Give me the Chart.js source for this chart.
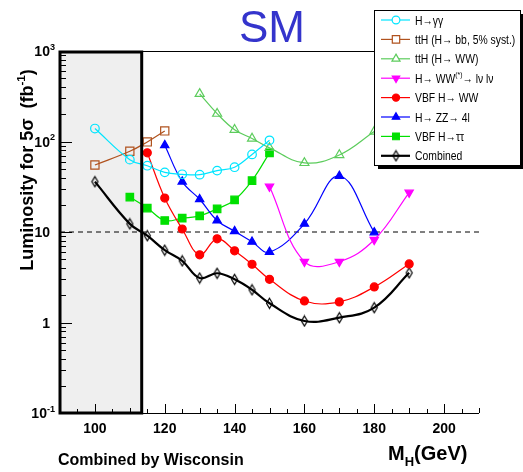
<!DOCTYPE html>
<html>
<head>
<meta charset="utf-8">
<script src="https://cdn.jsdelivr.net/npm/chart.js@4.4.0/dist/chart.umd.min.js"></script>
<style>
  html, body { margin: 0; padding: 0; background: #fff; }
  canvas { display: block; }
</style>
</head>
<body>
<canvas id="lumiChart" width="523" height="472"></canvas>
<script>
const massGamma = [100, 110, 115, 120, 125, 130, 135, 140, 145, 150];
const lumiGamma = [139, 63, 54, 45.6, 43.4, 43, 47.7, 52, 72, 103];

const massTthBb = [100, 110, 115, 120];
const lumiTthBb = [55, 78, 99, 131];

const massTthWw = [130, 135, 140, 145, 150, 160, 170, 180];
const lumiTthWw = [336, 203, 135, 108, 85, 58, 71, 129];

const massWwLvlv = [150, 160, 170, 180, 190];
const lumiWwLvlv = [31.8, 4.7, 4.7, 8.2, 27.3];

const massVbfWw = [115, 120, 125, 130, 135, 140, 145, 150, 160, 170, 180, 190];
const lumiVbfWw = [75, 23.7, 10.8, 5.6, 8.4, 6.2, 4.4, 3.0, 1.73, 1.69, 2.47, 4.44];

const massZz = [120, 125, 130, 135, 140, 145, 150, 160, 170, 180];
const lumiZz = [91, 36, 23, 13.4, 10.2, 7.8, 6.0, 12.3, 41.6, 9.9];

const massVbfTau = [110, 115, 120, 125, 130, 135, 140, 145, 150];
const lumiVbfTau = [24.3, 18.4, 13.4, 14.2, 15.1, 18, 22.6, 37, 75];

const massCombined = [100, 110, 115, 120, 125, 130, 135, 140, 145, 150, 160, 170, 180, 190];
const lumiCombined = [36, 12.3, 9.1, 6.3, 4.8, 3.1, 3.5, 3.0, 2.3, 1.63, 1.04, 1.13, 1.46, 3.54];

const xTickLabels = [100, 120, 140, 160, 180, 200];
const yTickValues = [0.1, 1, 10, 100, 1000];
const yTickLabels = ['10^{-1}', '1', '10', '10^{2}', '10^{3}'];

const lepExclusion = 113.4;
const discoveryLine = 10;

const FONT = '"Liberation Sans", Arial, Helvetica, sans-serif';

function pairs(xs, ys) {
  return xs.map((x, i) => ({ x: x, y: ys[i] }));
}

function makeDiamond() {
  const c = document.createElement('canvas');
  c.width = 9;
  c.height = 13;
  const g = c.getContext('2d');
  g.strokeStyle = '#000';
  g.lineWidth = 1.2;
  g.beginPath();
  g.moveTo(4.5, 1.5);
  g.lineTo(7.5, 6.5);
  g.lineTo(4.5, 11.5);
  g.lineTo(1.5, 6.5);
  g.closePath();
  g.stroke();
  return c;
}

// splits "a^{b}c_{d}" into plain / super / sub pieces
function richParts(text) {
  const parts = [];
  const re = /([\^_])\{([^}]*)\}/g;
  let last = 0, m;
  while ((m = re.exec(text))) {
    if (m.index > last) parts.push({ t: text.slice(last, m.index), k: '' });
    parts.push({ t: m[2], k: m[1] });
    last = re.lastIndex;
  }
  if (last < text.length) parts.push({ t: text.slice(last), k: '' });
  return parts;
}

function drawRich(ctx, text, x, y, size, weight, draw = true) {
  let cx = x;
  ctx.textAlign = 'left';
  ctx.textBaseline = 'alphabetic';
  richParts(text).forEach(p => {
    const s = p.k ? size * 0.65 : size;
    ctx.font = `${weight} ${s}px ${FONT}`;
    const dy = p.k === '^' ? -size * 0.45 : p.k === '_' ? size * 0.3 : 0;
    if (draw) ctx.fillText(p.t, cx, y + dy);
    cx += ctx.measureText(p.t).width;
  });
  return cx - x;
}

const LumiChart = {
  chart: null,

  createFramePlugin() {
    return {
      id: 'rootFrame',
      beforeDatasetsDraw(chart) {
        const ctx = chart.ctx;
        const area = chart.chartArea;
        const xs = chart.scales.x;
        const ys = chart.scales.y;
        const boxRight = xs.getPixelForValue(lepExclusion);

        ctx.save();
        ctx.fillStyle = '#efefef';
        ctx.fillRect(area.left, area.top, boxRight - area.left, area.bottom - area.top);

        const yd = ys.getPixelForValue(discoveryLine);
        ctx.strokeStyle = '#000';
        ctx.lineWidth = 1;
        ctx.setLineDash([5, 4]);
        ctx.beginPath();
        ctx.moveTo(area.left, yd);
        ctx.lineTo(area.right, yd);
        ctx.stroke();
        ctx.restore();
      },

      afterDatasetsDraw(chart) {
        const ctx = chart.ctx;
        const area = chart.chartArea;
        const xs = chart.scales.x;
        const ys = chart.scales.y;
        const boxRight = xs.getPixelForValue(lepExclusion);

        ctx.save();
        ctx.strokeStyle = '#000';
        ctx.fillStyle = '#000';

        // thin frame top and x axis
        ctx.lineWidth = 1;
        ctx.beginPath();
        ctx.moveTo(area.left, area.top + 0.5);
        ctx.lineTo(area.right, area.top + 0.5);
        ctx.moveTo(area.left, area.bottom + 0.5);
        ctx.lineTo(area.right, area.bottom + 0.5);
        ctx.stroke();

        // x ticks
        ctx.beginPath();
        for (let m = 90; m <= 210; m += 5) {
          const len = m % 20 === 0 ? 9 : (m % 10 === 0 ? 5 : 4);
          const px = Math.round(xs.getPixelForValue(m)) + 0.5;
          ctx.moveTo(px, area.bottom);
          ctx.lineTo(px, area.bottom - len);
        }
        ctx.stroke();

        // y ticks
        ctx.beginPath();
        for (let e = -1; e < 3; e++) {
          for (let k = 1; k <= 10; k++) {
            const v = k * Math.pow(10, e);
            const py = Math.round(ys.getPixelForValue(v)) + 0.5;
            const len = (k === 1 || k === 10) ? 12 : 6;
            ctx.moveTo(area.left, py);
            ctx.lineTo(area.left + len, py);
          }
        }
        ctx.stroke();

        // LEP box border
        ctx.lineWidth = 3;
        ctx.strokeRect(area.left, area.top + 1, boxRight - area.left, area.bottom - area.top - 1);

        // tick labels
        xTickLabels.forEach(v => {
          ctx.font = `bold 14px ${FONT}`;
          ctx.textAlign = 'center';
          ctx.textBaseline = 'alphabetic';
          ctx.fillText(String(v), xs.getPixelForValue(v), area.bottom + 20);
        });
        yTickValues.forEach((v, i) => {
          const label = yTickLabels[i];
          const hasExp = label.indexOf('^') >= 0;
          const w = drawRich(ctx, label, 0, 0, 14, 'bold', false);
          const right = hasExp ? area.left - 5 : area.left - 10;
          drawRich(ctx, label, right - w, ys.getPixelForValue(v) + 5, 14, 'bold');
        });

        // axis titles
        const yTitle = 'Luminosity for 5\u03c3  (fb^{-1})';
        const tw = drawRich(ctx, yTitle, 0, 0, 18, 'bold', false);
        ctx.save();
        ctx.translate(33, 170);
        ctx.rotate(-Math.PI / 2);
        drawRich(ctx, yTitle, -tw / 2, 0, 18, 'bold');
        ctx.restore();

        drawRich(ctx, 'M_{H}(GeV)', 388, 460, 20, 'bold');
        drawRich(ctx, 'Combined by Wisconsin', 58, 465, 16, 'bold');

        ctx.font = `normal 44px ${FONT}`;
        ctx.fillStyle = '#3434cc';
        ctx.textAlign = 'center';
        ctx.fillText('SM', 272, 42);
        ctx.restore();

        LumiChart.drawLegend(chart);
      }
    };
  },

  drawLegend(chart) {
    const ctx = chart.ctx;
    const box = { x: 374, y: 10, w: 146, h: 155 };

    ctx.save();
    ctx.fillStyle = '#000';
    ctx.fillRect(box.x + 4, box.y + 4, box.w, box.h);
    ctx.fillStyle = '#fff';
    ctx.fillRect(box.x, box.y, box.w, box.h);
    ctx.strokeStyle = '#000';
    ctx.lineWidth = 1;
    ctx.strokeRect(box.x + 0.5, box.y + 0.5, box.w, box.h);

    chart.data.datasets.forEach((ds, i) => {
      const y = 20 + i * 19.4;
      ctx.strokeStyle = ds.borderColor;
      ctx.lineWidth = ds.borderWidth;
      ctx.beginPath();
      ctx.moveTo(381, y);
      ctx.lineTo(410, y);
      ctx.stroke();

      ctx.strokeStyle = ds.pointBorderColor;
      ctx.fillStyle = ds.pointBackgroundColor === 'transparent' ? '#fff' : ds.pointBackgroundColor;
      ctx.lineWidth = ds.pointBorderWidth;
      Chart.helpers.drawPoint(ctx, {
        pointStyle: ds.pointStyle,
        rotation: ds.pointRotation || 0,
        radius: ds.pointRadius * 0.9,
        borderWidth: ds.pointBorderWidth
      }, 396, y);

      ctx.fillStyle = '#000';
      ctx.save();
      ctx.translate(415, y + 4.5);
      ctx.scale(0.83, 1);
      drawRich(ctx, ds.label, 0, 0, 12.5, 'normal');
      ctx.restore();
    });
    ctx.restore();
  },

  makeDataset(label, xs, ys, color, style, radius, filled, extra = {}) {
    return Object.assign({
      label: label,
      data: pairs(xs, ys),
      borderColor: color,
      borderWidth: 1.2,
      tension: 0.4,
      fill: false,
      pointStyle: style,
      pointRadius: radius,
      pointHoverRadius: radius,
      pointBorderColor: color,
      pointBackgroundColor: filled ? color : 'transparent',
      pointBorderWidth: 1.2
    }, extra);
  },

  getChartOptions() {
    return {
      responsive: false,
      animation: false,
      devicePixelRatio: 1,
      layout: {
        padding: { left: 60, right: 44, top: 51, bottom: 59 }
      },
      plugins: {
        legend: { display: false },
        tooltip: { enabled: false }
      },
      scales: {
        x: { type: 'linear', min: 90, max: 210, display: false },
        y: { type: 'logarithmic', min: 0.1, max: 1000, display: false }
      }
    };
  },

  init(chartId) {
    const ctx = document.getElementById(chartId);
    if (!ctx) return;

    if (this.chart) {
      this.chart.destroy();
      this.chart = null;
    }

    const diamond = makeDiamond();

    this.chart = new Chart(ctx, {
      type: 'line',
      data: {
        datasets: [
          this.makeDataset('H\u2192\u03b3\u03b3', massGamma, lumiGamma, '#00e5ff', 'circle', 4.3, false),
          this.makeDataset('ttH (H\u2192 bb, 5% syst.)', massTthBb, lumiTthBb, '#b0521e', 'rect', 5.8, false),
          this.makeDataset('ttH (H\u2192 WW)', massTthWw, lumiTthWw, '#5ccc5c', 'triangle', 5.2, false),
          this.makeDataset('H\u2192 WW^{(*)}\u2192 l\u03bd l\u03bd', massWwLvlv, lumiWwLvlv, '#ff00ff', 'triangle', 4.8, true, { pointRotation: 180 }),
          this.makeDataset('VBF H\u2192 WW', massVbfWw, lumiVbfWw, '#ff0000', 'circle', 4, true),
          this.makeDataset('H\u2192 ZZ\u2192 4l', massZz, lumiZz, '#0000ff', 'triangle', 4.8, true),
          this.makeDataset('VBF H\u2192\u03c4\u03c4', massVbfTau, lumiVbfTau, '#00e000', 'rect', 5.3, true),
          this.makeDataset('Combined', massCombined, lumiCombined, '#000000', diamond, 5, false, { borderWidth: 2.2 })
        ]
      },
      options: this.getChartOptions(),
      plugins: [this.createFramePlugin()]
    });
  }
};

LumiChart.init('lumiChart');
</script>
</body>
</html>
